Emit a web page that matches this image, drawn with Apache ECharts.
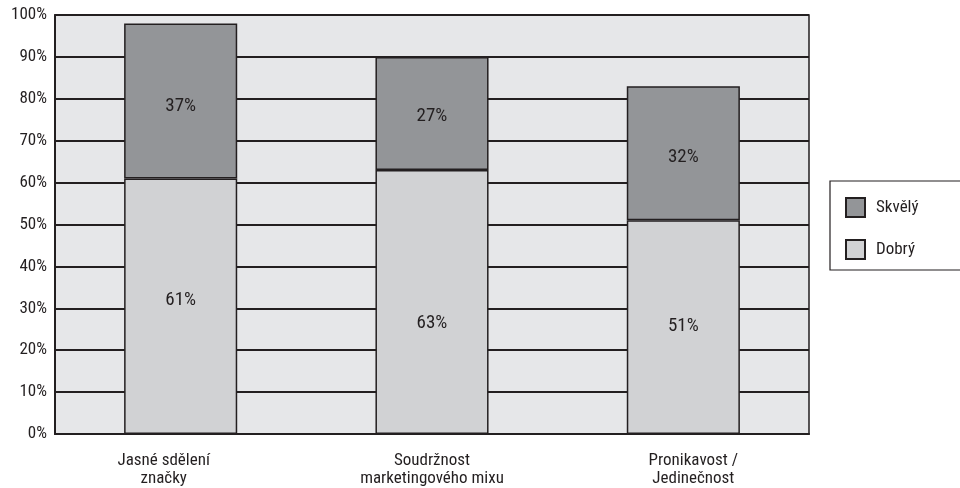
<!DOCTYPE html>
<html>
<head>
<meta charset="utf-8">
<script src="https://cdn.jsdelivr.net/npm/echarts@6/dist/echarts.min.js"></script>
<style>
  html, body { margin: 0; padding: 0; background: #ffffff; }
  #chart { width: 960px; height: 488px; }
</style>
</head>
<body>
<div id="chart"></div>
<script>
// Category labels (two lines each)
const categories = [
  'Jasné sdělení\nznačky',
  'Soudržnost\nmarketingového mixu',
  'Pronikavost /\nJedinečnost'
];
// Share of respondents, percent
const dobry = [61, 63, 51];
const skvely = [37, 27, 32];
const seriesNames = ['Skvělý', 'Dobrý'];

const FONT = '"Roboto Condensed", "Liberation Sans Narrow", "Liberation Sans", Arial, sans-serif';
const TEXT = '#231f20';

// Layout nudges for text placement (pixels)
const categoryLabelShift = [-17, 0, 10];
const dobryLabelDy = [-6, 21, -1];
const skvelyLabelDy = [5, 3, 4];

function withLabelDy(values, dys) {
  return values.map((v, i) => ({ value: v, label: { offset: [0, dys[i]] } }));
}

const axisCategories = categories.map((c, i) => {
  const s = categoryLabelShift[i];
  return {
    value: c,
    textStyle: { padding: s < 0 ? [0, -2 * s, 0, 0] : [0, 0, 0, 2 * s] }
  };
});

const chart = echarts.init(document.getElementById('chart'), null, { renderer: 'canvas' });

chart.setOption({
  animation: false,
  textStyle: { fontFamily: FONT, color: TEXT },
  grid: {
    left: 55, top: 15, right: 151, bottom: 53,
    show: true,
    backgroundColor: '#e6e7e9',
    borderColor: '#231f20',
    borderWidth: 1.5
  },
  legend: {
    data: seriesNames,
    orient: 'vertical',
    left: 830, top: 181,
    width: 160,
    padding: [16, 80, 10, 15],
    icon: 'rect',
    itemWidth: 19, itemHeight: 19, itemGap: 21,
    borderColor: '#231f20', borderWidth: 1.2,
    backgroundColor: '#ffffff',
    textStyle: { fontFamily: FONT, fontSize: 17, color: TEXT, padding: [0, 0, 0, 6] },
    selectedMode: false
  },
  xAxis: {
    type: 'category',
    data: axisCategories,
    axisLine: { show: true, lineStyle: { color: '#231f20', width: 2 } },
    axisTick: { show: false },
    axisLabel: { fontFamily: FONT, fontSize: 17, color: TEXT, lineHeight: 18, margin: 18 }
  },
  yAxis: {
    type: 'value',
    min: 0, max: 100, interval: 10,
    axisLine: { show: true, lineStyle: { color: '#231f20', width: 2 } },
    axisTick: { show: false },
    axisLabel: { fontFamily: FONT, fontSize: 17, color: TEXT, formatter: '{value}%', margin: 8 },
    splitLine: { show: true, lineStyle: { color: '#231f20', width: 2 } }
  },
  series: [
    {
      name: 'Dobrý',
      type: 'bar',
      stack: 'total',
      data: withLabelDy(dobry, dobryLabelDy),
      barWidth: '45%',
      itemStyle: { color: '#d1d2d4', borderColor: '#231f20', borderWidth: 1.5 },
      label: { show: true, position: 'inside', formatter: '{c}%', fontFamily: FONT, fontSize: 19, color: TEXT }
    },
    {
      name: 'Skvělý',
      type: 'bar',
      stack: 'total',
      data: withLabelDy(skvely, skvelyLabelDy),
      barWidth: '45%',
      itemStyle: { color: '#939598', borderColor: '#231f20', borderWidth: 1.5 },
      label: { show: true, position: 'inside', formatter: '{c}%', fontFamily: FONT, fontSize: 19, color: TEXT }
    }
  ]
});
</script>
</body>
</html>
